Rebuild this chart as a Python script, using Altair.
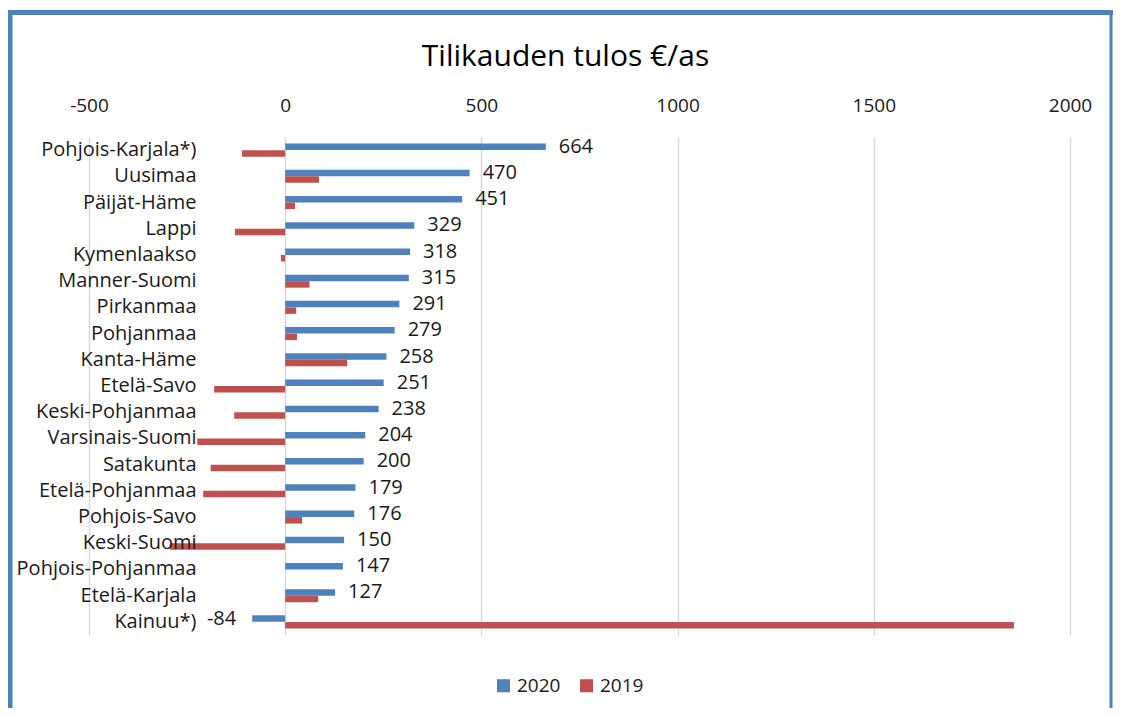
import altair as alt
import pandas as pd

categories = ["Pohjois-Karjala*)", "Uusimaa", "Päijät-Häme", "Lappi", "Kymenlaakso",
              "Manner-Suomi", "Pirkanmaa", "Pohjanmaa", "Kanta-Häme", "Etelä-Savo",
              "Keski-Pohjanmaa", "Varsinais-Suomi", "Satakunta", "Etelä-Pohjanmaa",
              "Pohjois-Savo", "Keski-Suomi", "Pohjois-Pohjanmaa", "Etelä-Karjala", "Kainuu*)"]
v2020 = [664, 470, 451, 329, 318, 315, 291, 279, 258, 251, 238, 204, 200, 179, 176, 150, 147, 127, -84]
v2019 = [-110, 86, 25, -128, -11, 62, 28, 30, 158, -181, -130, -224, -190, -209, 43, -294, 0, 84, 1857]
series = ["2020", "2019"]
colors = ["#4F81BD", "#C0504D"]
x_ticks = [-500, 0, 500, 1000, 1500, 2000]

rows = []
for c, a, b in zip(categories, v2020, v2019):
    rows.append({"cat": c, "series": "2020", "value": a})
    rows.append({"cat": c, "series": "2019", "value": b})
df = pd.DataFrame(rows)

FONT = "Open Sans"
TXT = "#1a1a1a"
W, H = 981, 498

base = alt.Chart(df).transform_calculate(lab="'' + datum.value")

y_enc = alt.Y("cat:N", sort=categories,
              scale=alt.Scale(paddingInner=0.5, paddingOuter=0.25),
              axis=alt.Axis(title=None, domain=False, ticks=False, tickSize=0,
                            labelPadding=0, offset=-107, labelFontSize=20,
                            labelFont=FONT, labelColor=TXT, zindex=1,
                            labelLimit=300))
yoff = alt.YOffset("series:N", sort=series, scale=alt.Scale(domain=series, paddingInner=0, paddingOuter=0))
x_enc = alt.X("value:Q", scale=alt.Scale(domain=[-500, 2000], nice=False, zero=False),
              axis=alt.Axis(orient="top", title=None, values=x_ticks, domain=False,
                            ticks=False, tickSize=0, labelPadding=22, labelFontSize=19,
                            labelFont=FONT, labelColor=TXT, labelExpr="'' + datum.value",
                            grid=True, gridColor="#d9d9d9", gridWidth=1.5,
                            labelFlush=False))

bars = base.mark_bar(size=6.5).encode(
    y=y_enc, yOffset=yoff, x=x_enc,
    color=alt.Color("series:N", sort=series,
                    scale=alt.Scale(domain=series, range=colors),
                    legend=alt.Legend(title=None, orient="none", direction="horizontal",
                                      legendX=405, legendY=539, symbolType="square",
                                      symbolSize=170, symbolStrokeWidth=0,
                                      labelFontSize=19, labelFont=FONT, labelOffset=4,
                                      labelColor=TXT, columnPadding=16,
                                      symbolOpacity=1)),
)

lab_pos = base.transform_filter("datum.series == '2020' && datum.value >= 0").mark_text(
    align="left", baseline="middle", dx=13, fontSize=20, font=FONT, color=TXT
).encode(y=alt.Y("cat:N", sort=categories), yOffset=yoff, x="value:Q", text="lab:N")

lab_neg = base.transform_filter("datum.series == '2020' && datum.value < 0").mark_text(
    align="right", baseline="middle", dx=-16, fontSize=20, font=FONT, color=TXT
).encode(y=alt.Y("cat:N", sort=categories), yOffset=yoff, x="value:Q", text="lab:N")

fdf = pd.DataFrame({"k": [0]})
frame_col = "#4F81BD"
left = alt.Chart(fdf).mark_rule(color=frame_col, strokeWidth=5).encode(
    x=alt.value(-79), y=alt.value(-127), y2=alt.value(575))
top = alt.Chart(fdf).mark_rule(color=frame_col, strokeWidth=5).encode(
    x=alt.value(-81), x2=alt.value(1024), y=alt.value(-124.5))
right = alt.Chart(fdf).mark_rule(color=frame_col, strokeWidth=3).encode(
    x=alt.value(1022), y=alt.value(-127), y2=alt.value(575))

chart = alt.layer(bars, lab_pos, lab_neg, left, top, right).properties(
    width=W, height=H,
    background="white",
    title=alt.TitleParams("Tilikauden tulos €/as", font=FONT, fontSize=30,
                          fontWeight="normal", color="#000000", anchor="middle",
                          offset=-64, dx=-14),
    autosize=alt.AutoSizeParams(type="none"),
    padding={"left": 81, "top": 129, "right": 43, "bottom": 73},
).configure_view(strokeWidth=0, stroke=None)

chart.save("out.html", embed_options={"renderer": "svg", "actions": False})
